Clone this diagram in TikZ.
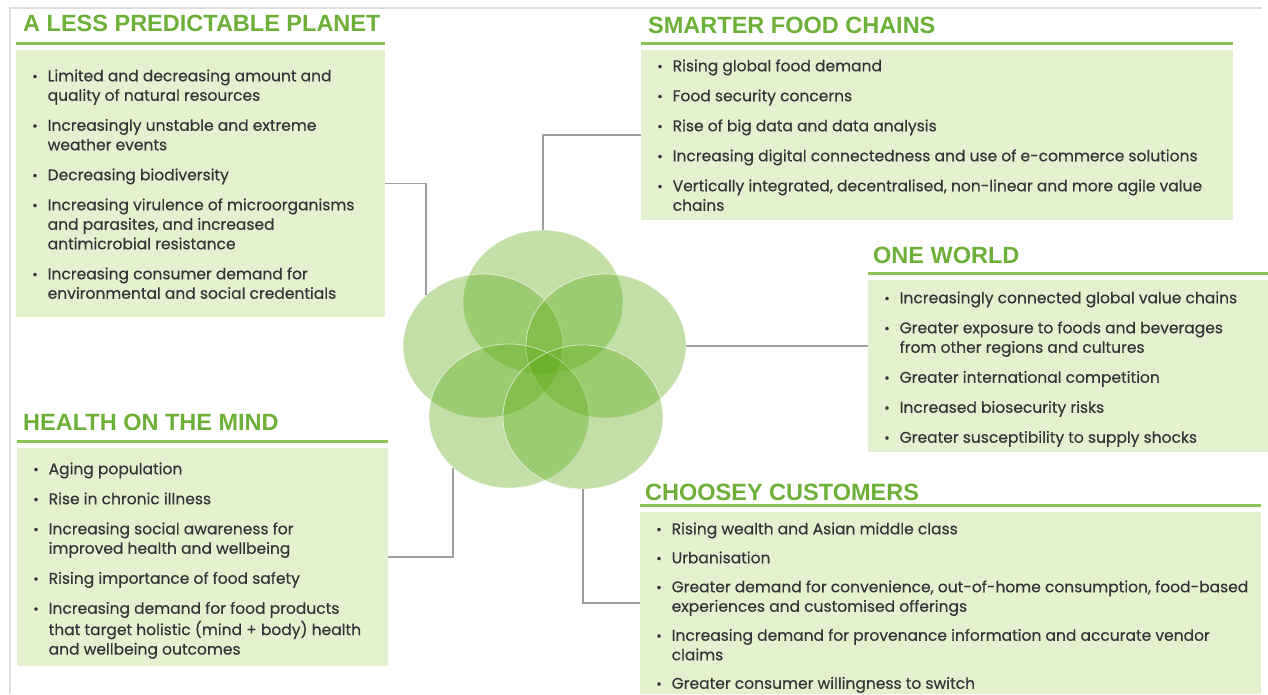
\documentclass[tikz,border=0pt]{standalone}
\usepackage{fontspec}
\usepackage{tikz}
\usetikzlibrary{shapes.geometric}

\newfontfamily\bodyfont{Poppins}[FakeBold=0.4]
\newfontfamily\headfont{Liberation Sans}

\definecolor{headgreen}{RGB}{108,176,56}
\definecolor{rulegreen}{RGB}{138,195,88}
\definecolor{boxgreen}{RGB}{227,241,207}
\definecolor{petalgreen}{RGB}{94,170,20}
\definecolor{linkgrey}{RGB}{158,158,158}
\definecolor{framegrey}{RGB}{222,222,222}
\definecolor{textgrey}{RGB}{52,52,52}

\newcommand{\bitem}{\strut\makebox[15.5pt][l]{\raisebox{0.2pt}{\fontsize{13.5}{13.5}\selectfont\textbullet}}}
\newcommand{\bcont}{\hspace*{15.5pt}}

\begin{document}
\begin{tikzpicture}[x=1pt, y=-1pt,
    petal/.style={ellipse, minimum width=160pt, minimum height=144pt, inner sep=0pt,
        fill=petalgreen, fill opacity=0.37, draw=white, draw opacity=0.6, line width=0.8pt},
    panel/.style={rectangle, fill=boxgreen, inner sep=0pt, anchor=north west},
    heading/.style={anchor=base west, inner sep=0pt, text=headgreen,
        font={\headfont\bfseries\fontsize{23.5}{28}\selectfont}},
    bullets/.style={anchor=north west, inner sep=0pt, align=left, text=textgrey,
        font={\bodyfont\fontsize{15.5}{19.5}\selectfont}},
    headrule/.style={draw=rulegreen, line width=3pt},
    link/.style={draw=linkgrey, line width=1.5pt}
]

    \path[use as bounding box, fill=white] (0,0) rectangle (1268,694);
    \draw[framegrey, line width=1.2pt] (10,694) -- (10,8) -- (1262,8);

    % boxes
    \node[panel, minimum width=369pt, minimum height=267pt] (planet) at (16,50) {};
    \node[panel, minimum width=592pt, minimum height=170pt] (chains) at (641,50) {};
    \node[panel, minimum width=400pt, minimum height=172pt] (world) at (868,280) {};
    \node[panel, minimum width=371pt, minimum height=218pt] (health) at (17,448) {};
    \node[panel, minimum width=621pt, minimum height=182pt] (customers) at (640,512) {};

    \foreach \b in {planet,chains,world,health,customers}
        \draw[headrule] ([yshift=7pt]\b.north west) -- ([yshift=7pt]\b.north east);

    \node[heading] (planet-title) at (23,31.5) {A LESS PREDICTABLE PLANET};
    \node[heading] (chains-title) at (648,33.5) {SMARTER FOOD CHAINS};
    \node[heading] (world-title) at (873,263.5) {ONE WORLD};
    \node[heading] (health-title) at (23,430) {HEALTH ON THE MIND};
    \node[heading] (customers-title) at (645,500.5) {CHOOSEY CUSTOMERS};

    % flower
    \node[petal] (petal-top) at (543,302) {};
    \node[petal] (petal-left) at (483,346) {};
    \node[petal] (petal-right) at (606,346) {};
    \node[petal] (petal-bl) at (509,416) {};
    \node[petal] (petal-br) at (583,417) {};

    \draw[link] (planet.east) -| (petal-left.138);
    \draw[link] (chains.west) -| (petal-top.north);
    \draw[link] (petal-right.east) -- (world.west |- petal-right.east);
    \draw[link] (health.east) -| (petal-bl.223);
    \draw[link] (customers.west) -| (petal-br.south);

    % bullet lists
    \node[bullets] (planet-list) at (32,67.4) {
        \bitem Limited and decreasing amount and\\
        \bcont quality of natural resources\\[10.5pt]
        \bitem Increasingly unstable and extreme\\
        \bcont weather events\\[10.5pt]
        \bitem Decreasing biodiversity\\[10.5pt]
        \bitem Increasing virulence of microorganisms\\
        \bcont and parasites, and increased\\
        \bcont antimicrobial resistance\\[10.5pt]
        \bitem Increasing consumer demand for\\
        \bcont environmental and social credentials
    };
    \node[bullets] (chains-list) at (657,57.4) {
        \bitem Rising global food demand\\[10.5pt]
        \bitem Food security concerns\\[10.5pt]
        \bitem Rise of big data and data analysis\\[10.5pt]
        \bitem Increasing digital connectedness and use of e-commerce solutions\\[10.5pt]
        \bitem Vertically integrated, decentralised, non-linear and more agile value\\
        \bcont chains
    };
    \node[bullets] (world-list) at (884,289.4) {
        \bitem Increasingly connected global value chains\\[10.5pt]
        \bitem Greater exposure to foods and beverages\\
        \bcont from other regions and cultures\\[10.5pt]
        \bitem Greater international competition\\[10.5pt]
        \bitem Increased biosecurity risks\\[10.5pt]
        \bitem Greater susceptibility to supply shocks
    };
    \node[bullets] (health-list) at (33,460.4) {
        \bitem Aging population\\[10.5pt]
        \bitem Rise in chronic illness\\[10.5pt]
        \bitem Increasing social awareness for\\
        \bcont improved health and wellbeing\\[10.5pt]
        \bitem Rising importance of food safety\\[10.5pt]
        \bitem Increasing demand for food products\\
        \bcont that target holistic (mind + body) health\\
        \bcont and wellbeing outcomes
    };
    \node[bullets] (customers-list) at (656,520.4) {
        \bitem Rising wealth and Asian middle class\\[9.5pt]
        \bitem Urbanisation\\[9.5pt]
        \bitem Greater demand for convenience, out-of-home consumption, food-based\\
        \bcont experiences and customised offerings\\[9.5pt]
        \bitem Increasing demand for provenance information and accurate vendor\\
        \bcont claims\\[9pt]
        \bitem Greater consumer willingness to switch
    };
\end{tikzpicture}
\end{document}
